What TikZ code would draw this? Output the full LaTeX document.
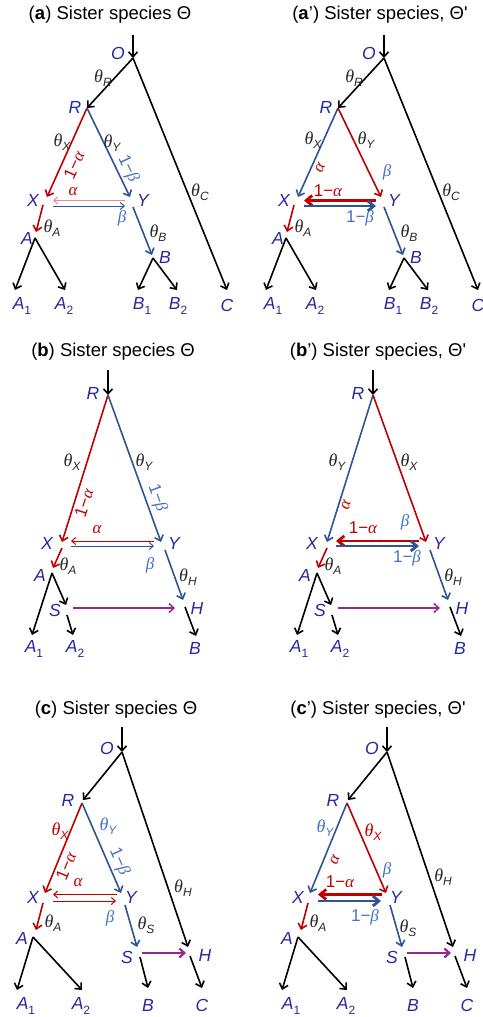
\documentclass[tikz,border=0pt]{standalone}
\usepackage{fontspec}
\setmainfont{Liberation Sans}
\newfontfamily\grk{Liberation Serif}
\usetikzlibrary{arrows.meta}

\definecolor{nodeblue}{RGB}{40,40,160}
\definecolor{brred}{RGB}{192,0,0}
\definecolor{brblue}{RGB}{46,84,150}
\definecolor{lblue}{RGB}{68,114,196}
\definecolor{palered}{RGB}{236,140,140}
\definecolor{mauve}{RGB}{150,40,140}
\definecolor{thgray}{RGB}{40,40,40}

\newcommand{\sbs}[1]{\raisebox{-0.45ex}{\fontsize{12}{12}\selectfont #1}}
\newcommand{\gth}[1]{{\grk\itshape θ}\sbs{\itshape #1}}
\newcommand{\galpha}{{\grk\itshape α}}
\newcommand{\gbeta}{{\grk\itshape β}}

\begin{document}
\begin{tikzpicture}[x=1pt, y=1pt,
        >={Straight Barb[length=5pt,width=9pt]},
        lbl/.style={font=\fontsize{17.5}{18}\selectfont\itshape, text=nodeblue, inner sep=0pt},
        ttl/.style={font=\fontsize{18.5}{20}\selectfont, inner sep=0pt},
        thl/.style={font=\fontsize{18}{18}\selectfont, text=thgray, inner sep=0pt},
        prob/.style={font=\fontsize{17}{17}\selectfont, inner sep=0pt},
        br/.style={->, line width=1.6pt},
        mig/.style={->, line width=1pt, >={Straight Barb[length=4pt,width=7pt]}},
        migk/.style={->, line width=2.8pt, >={Straight Barb[length=6pt,width=10pt]}},
        hyb/.style={->, mauve, line width=1.5pt}
    ]
    \useasboundingbox (0,0) rectangle (482,-1017);

    % titles
    \node[ttl] (a-ttl) at (110,-15) {(\textbf{a}) Sister species Θ};
    \node[ttl] (ap-ttl) at (380,-15) {(\textbf{a}’) Sister species, Θ\textquotesingle};
    \node[ttl] (b-ttl) at (113,-352) {(\textbf{b}) Sister species Θ};
    \node[ttl] (bp-ttl) at (378,-352) {(\textbf{b}’) Sister species, Θ\textquotesingle};
    \node[ttl] (c-ttl) at (116,-710) {(\textbf{c}) Sister species Θ};
    \node[ttl] (cp-ttl) at (378,-710) {(\textbf{c}’) Sister species, Θ\textquotesingle};

    % (a) and (a'): common tree
    \foreach \dx/\p in {0/a,251/ap}{
    \begin{scope}[xshift=\dx]
        \coordinate (\p-top) at (133,-35);
        \coordinate (\p-O) at (133,-58);
        \coordinate (\p-R) at (87,-108);
        \coordinate (\p-C) at (227,-290);
        \coordinate (\p-X) at (47,-197);
        \coordinate (\p-Y) at (130,-197);
        \coordinate (\p-Xs) at (43,-205);
        \coordinate (\p-Ae) at (36,-232);
        \coordinate (\p-A) at (35,-238);
        \coordinate (\p-A1) at (15,-290);
        \coordinate (\p-A2) at (65,-290);
        \coordinate (\p-Ys) at (133,-207);
        \coordinate (\p-Be) at (152,-255);
        \coordinate (\p-B) at (153,-258);
        \coordinate (\p-B1) at (138,-290);
        \coordinate (\p-B2) at (177,-290);
        \coordinate (\p-Xu) at (53,-200.5);
        \coordinate (\p-Yu) at (125,-200.5);
        \coordinate (\p-Xd) at (53,-206);
        \coordinate (\p-Yd) at (125,-206);
        \draw[br] (\p-top) -- (\p-O);
        \draw[br] (\p-O) -- (\p-R);
        \draw[br] (\p-O) -- (\p-C);
        \draw[br, brred] (\p-Xs) -- (\p-Ae);
        \draw[br, brblue] (\p-Ys) -- (\p-Be);
        \foreach \src/\dst in {A/A1, A/A2, B/B1, B/B2}
            \draw[br] (\p-\src) -- (\p-\dst);
        \node[lbl] (\p-nO) at (118,-53) {O};
        \node[lbl] (\p-nR) at (75,-107) {R};
        \node[lbl] (\p-nX) at (33,-200) {X};
        \node[lbl] (\p-nY) at (143,-200) {Y};
        \node[lbl] (\p-nA) at (27,-238) {A};
        \node[lbl] (\p-nB) at (165,-257) {B};
        \node[lbl] (\p-nA1) at (22,-306) {A\sbs{\upshape 1}};
        \node[lbl] (\p-nA2) at (64,-306) {A\sbs{\upshape 2}};
        \node[lbl] (\p-nB1) at (142,-306) {B\sbs{\upshape 1}};
        \node[lbl] (\p-nB2) at (178,-306) {B\sbs{\upshape 2}};
        \node[lbl] (\p-nC) at (227,-305) {C};
        \node[thl] (\p-tR) at (103,-78) {\gth{R}};
        \node[thl] (\p-tC) at (200,-192) {\gth{C}};
        \node[thl] (\p-tA) at (52,-228) {\gth{A}};
        \node[thl] (\p-tB) at (158,-233) {\gth{B}};
    \end{scope}
    }
    % (a)
    \draw[br, brred] (a-R) -- (a-X);
    \draw[br, brblue] (a-R) -- (a-Y);
    \draw[mig, palered] (a-Yu) -- (a-Xu);
    \draw[mig, brblue] (a-Xd) -- (a-Yd);
    \node[thl] (a-tX) at (62,-142) {\gth{X}};
    \node[thl] (a-tY) at (112,-143) {\gth{Y}};
    \node[prob, text=brred, rotate=66] (a-p1) at (74,-165) {1−\galpha};
    \node[prob, text=lblue, rotate=-64] (a-p2) at (128,-169) {1−\gbeta};
    \node[prob, text=brred] (a-pa) at (73,-192) {\galpha};
    \node[prob, text=lblue] (a-pb) at (122,-218) {\gbeta};
    % (a')
    \draw[br, brblue] (ap-R) -- (ap-X);
    \draw[br, brred] (ap-R) -- (ap-Y);
    \draw[migk, brred] (ap-Yu) -- (ap-Xu);
    \draw[migk, brblue] (ap-Xd) -- (ap-Yd);
    \node[thl] (ap-tX) at (313,-140) {\gth{X}};
    \node[thl] (ap-tY) at (366,-140) {\gth{Y}};
    \node[prob, text=brred, rotate=66] (ap-pa) at (320,-168) {\galpha};
    \node[prob, text=lblue] (ap-pb) at (387,-172) {\gbeta};
    \node[prob, text=brred] (ap-p1) at (328,-191) {1−\galpha};
    \node[prob, text=lblue] (ap-p2) at (360,-218) {1−\gbeta};

    % (b) and (b'): common tree
    \foreach \dx/\p in {0/b,265/bp}{
    \begin{scope}[xshift=\dx]
        \coordinate (\p-top) at (108,-370);
        \coordinate (\p-R) at (108,-395);
        \coordinate (\p-X) at (62,-542);
        \coordinate (\p-Y) at (161,-542);
        \coordinate (\p-Xs) at (62,-548);
        \coordinate (\p-Ae) at (53,-568);
        \coordinate (\p-A) at (52,-573);
        \coordinate (\p-A1) at (32,-635);
        \coordinate (\p-Se) at (66,-605);
        \coordinate (\p-Ss) at (67,-615);
        \coordinate (\p-A2) at (73,-635);
        \coordinate (\p-Ys) at (165,-550);
        \coordinate (\p-He) at (183,-600);
        \coordinate (\p-Hs) at (185,-607);
        \coordinate (\p-B) at (196,-636);
        \coordinate (\p-Sh) at (73,-608);
        \coordinate (\p-Hh) at (175,-608);
        \coordinate (\p-Xu) at (71,-541);
        \coordinate (\p-Yu) at (154,-541);
        \coordinate (\p-Xd) at (71,-546);
        \coordinate (\p-Yd) at (154,-546);
        \draw[br] (\p-top) -- (\p-R);
        \draw[br, brred] (\p-Xs) -- (\p-Ae);
        \draw[br, brblue] (\p-Ys) -- (\p-He);
        \draw[br] (\p-A) -- (\p-A1);
        \draw[br] (\p-A) -- (\p-Se);
        \draw[br] (\p-Ss) -- (\p-A2);
        \draw[br] (\p-Hs) -- (\p-B);
        \draw[hyb] (\p-Sh) -- (\p-Hh);
        \node[lbl] (\p-nR) at (93,-393) {R};
        \node[lbl] (\p-nX) at (47,-543) {X};
        \node[lbl] (\p-nY) at (174,-543) {Y};
        \node[lbl] (\p-nA) at (40,-575) {A};
        \node[lbl] (\p-nS) at (55,-610) {S};
        \node[lbl] (\p-nH) at (197,-608) {H};
        \node[lbl] (\p-nA1) at (34,-649) {A\sbs{\upshape 1}};
        \node[lbl] (\p-nA2) at (75,-649) {A\sbs{\upshape 2}};
        \node[lbl] (\p-nB) at (195,-648) {B};
        \node[thl] (\p-tA) at (68,-566) {\gth{A}};
        \node[thl] (\p-tH) at (188,-577) {\gth{H}};
    \end{scope}
    }
    % (b)
    \draw[br, brred] (b-R) -- (b-X);
    \draw[br, brblue] (b-R) -- (b-Y);
    \draw[mig, brred] (b-Yu) -- (b-Xu);
    \draw[mig, brblue] (b-Xd) -- (b-Yd);
    \node[thl] (b-tX) at (72,-462) {\gth{X}};
    \node[thl] (b-tY) at (144,-462) {\gth{Y}};
    \node[prob, text=brred, rotate=72] (b-p1) at (84,-503) {1−\galpha};
    \node[prob, text=lblue, rotate=-70] (b-p2) at (157,-498) {1−\gbeta};
    \node[prob, text=brred] (b-pa) at (97,-530) {\galpha};
    \node[prob, text=lblue] (b-pb) at (150,-565) {\gbeta};
    % (b')
    \draw[br, brblue] (bp-R) -- (bp-X);
    \draw[br, brred] (bp-R) -- (bp-Y);
    \draw[migk, brred] (bp-Yu) -- (bp-Xu);
    \draw[migk, brblue] (bp-Xd) -- (bp-Yd);
    \node[thl] (bp-tY) at (337,-462) {\gth{Y}};
    \node[thl] (bp-tX) at (409,-462) {\gth{X}};
    \node[prob, text=brred, rotate=72] (bp-pa) at (346,-505) {\galpha};
    \node[prob, text=lblue] (bp-pb) at (405,-522) {\gbeta};
    \node[prob, text=brred] (bp-p1) at (363,-528) {1−\galpha};
    \node[prob, text=lblue] (bp-p2) at (407,-558) {1−\gbeta};

    % (c) and (c'): common tree
    \foreach \dx/\p in {0/c,265/cp}{
    \begin{scope}[xshift=\dx]
        \coordinate (\p-top) at (122,-727);
        \coordinate (\p-O) at (122,-752);
        \coordinate (\p-Re) at (83,-800);
        \coordinate (\p-R) at (82,-803);
        \coordinate (\p-He) at (188,-947);
        \coordinate (\p-X) at (45,-893);
        \coordinate (\p-Y) at (121,-893);
        \coordinate (\p-Xs) at (43,-903);
        \coordinate (\p-Ae) at (36,-930);
        \coordinate (\p-A) at (33,-937);
        \coordinate (\p-A1) at (17,-990);
        \coordinate (\p-A2) at (82,-990);
        \coordinate (\p-Ys) at (125,-905);
        \coordinate (\p-Se) at (137,-947);
        \coordinate (\p-Ss) at (140,-957);
        \coordinate (\p-B) at (148,-988);
        \coordinate (\p-Sh) at (142,-953);
        \coordinate (\p-Hh) at (186,-953);
        \coordinate (\p-Hs) at (190,-956);
        \coordinate (\p-C) at (202,-988);
        \coordinate (\p-Xu) at (53,-894.5);
        \coordinate (\p-Yu) at (117,-894.5);
        \coordinate (\p-Xd) at (53,-901);
        \coordinate (\p-Yd) at (116,-901);
        \draw[br] (\p-top) -- (\p-O);
        \draw[br] (\p-O) -- (\p-Re);
        \draw[br] (\p-O) -- (\p-He);
        \draw[br, brred] (\p-Xs) -- (\p-Ae);
        \draw[br, brblue] (\p-Ys) -- (\p-Se);
        \draw[br] (\p-A) -- (\p-A1);
        \draw[br] (\p-A) -- (\p-A2);
        \draw[br] (\p-Ss) -- (\p-B);
        \draw[br] (\p-Hs) -- (\p-C);
        \draw[hyb, line width=2.2pt] (\p-Sh) -- (\p-Hh);
        \node[lbl] (\p-nO) at (107,-748) {O};
        \node[lbl] (\p-nR) at (68,-800) {R};
        \node[lbl] (\p-nX) at (33,-897) {X};
        \node[lbl] (\p-nY) at (131,-897) {Y};
        \node[lbl] (\p-nA) at (22,-938) {A};
        \node[lbl] (\p-nS) at (127,-957) {S};
        \node[lbl] (\p-nH) at (205,-955) {H};
        \node[lbl] (\p-nA1) at (26,-1006) {A\sbs{\upshape 1}};
        \node[lbl] (\p-nA2) at (81,-1006) {A\sbs{\upshape 2}};
        \node[lbl] (\p-nB) at (148,-1005) {B};
        \node[lbl] (\p-nC) at (202,-1005) {C};
        \node[thl] (\p-tA) at (53,-923) {\gth{A}};
    \end{scope}
    }
    % (c)
    \draw[br, brred] (c-R) -- (c-X);
    \draw[br, brblue] (c-R) -- (c-Y);
    \draw[mig, brred] (c-Yu) -- (c-Xu);
    \draw[mig, brred] (c-Xd) -- (c-Yd);
    \node[thl, text=brred] (c-tX) at (60,-831) {\gth{X}};
    \node[thl, text=lblue] (c-tY) at (108,-826) {\gth{Y}};
    \node[prob, text=brred, rotate=68] (c-p1) at (66,-866) {1−\galpha};
    \node[prob, text=lblue, rotate=-66] (c-p2) at (119,-862) {1−\gbeta};
    \node[prob, text=brred] (c-pa) at (78,-883) {\galpha};
    \node[prob, text=lblue] (c-pb) at (110,-918) {\gbeta};
    \node[thl] (c-tS) at (146,-925) {\gth{S}};
    \node[thl] (c-tH) at (183,-888) {\gth{H}};
    % (c')
    \draw[br, brblue] (cp-R) -- (cp-X);
    \draw[br, brred] (cp-R) -- (cp-Y);
    \draw[migk, brred] (cp-Yu) -- (cp-Xu);
    \draw[migk, brblue] (cp-Xd) -- (cp-Yd);
    \node[thl, text=lblue] (cp-tY) at (325,-828) {\gth{Y}};
    \node[thl, text=brred] (cp-tX) at (373,-832) {\gth{X}};
    \node[prob, text=brred, rotate=68] (cp-pa) at (335,-860) {\galpha};
    \node[prob, text=lblue] (cp-pb) at (387,-870) {\gbeta};
    \node[prob, text=brred] (cp-p1) at (340,-882) {1−\galpha};
    \node[prob, text=lblue] (cp-p2) at (365,-917) {1−\gbeta};
    \node[thl] (cp-tS) at (408,-928) {\gth{S}};
    \node[thl] (cp-tH) at (443,-877) {\gth{H}};
\end{tikzpicture}
\end{document}
